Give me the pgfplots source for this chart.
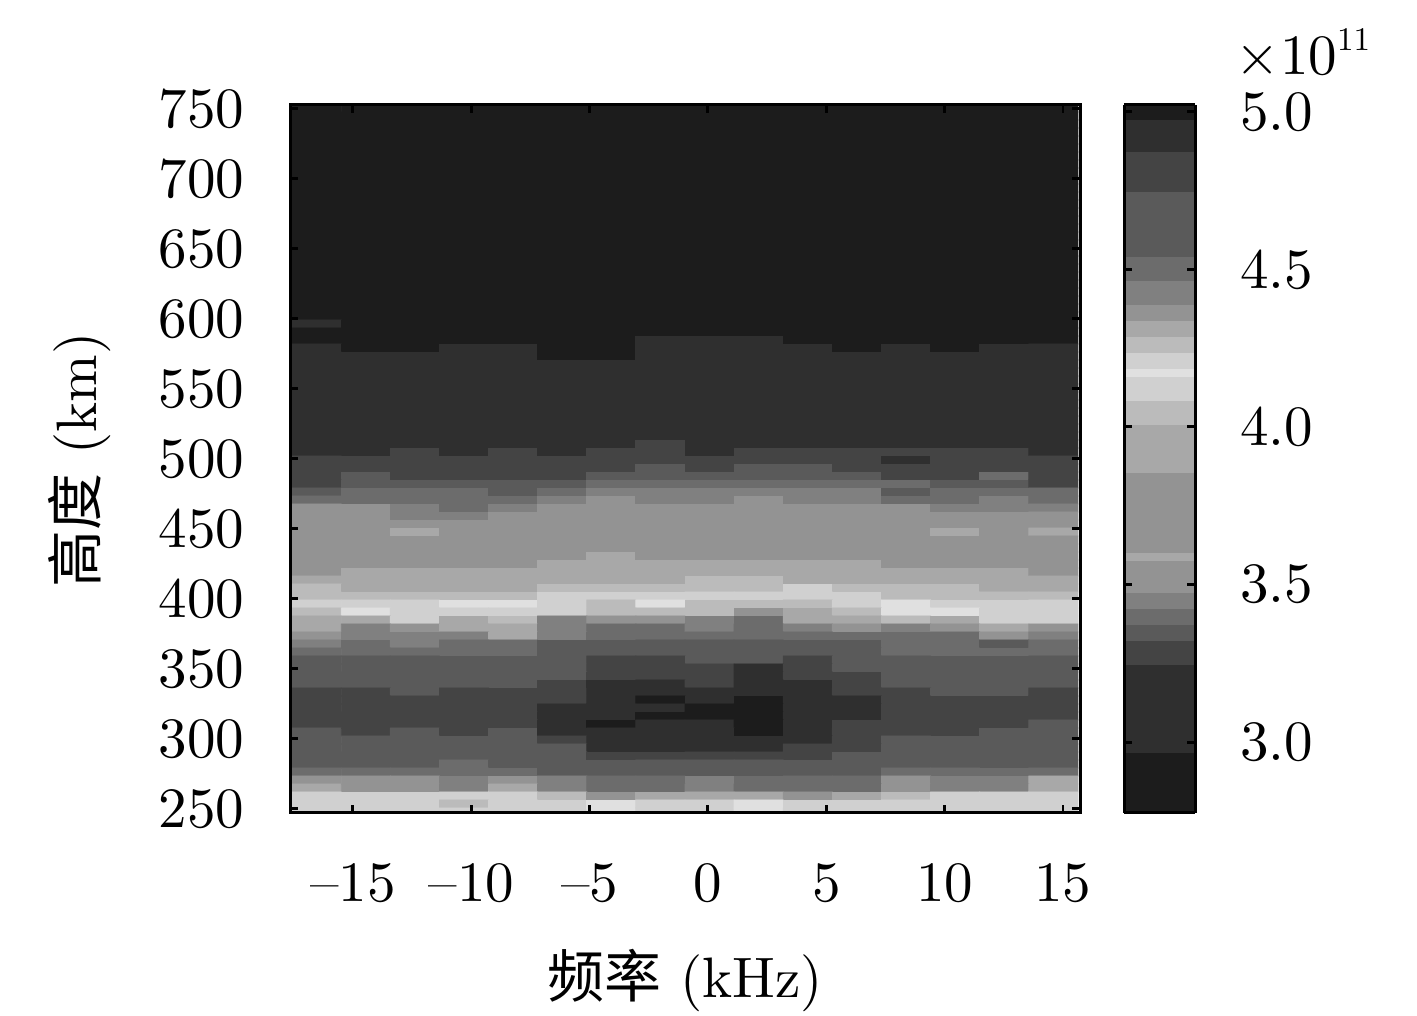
\documentclass[border=0pt]{standalone}
\usepackage{fontspec}
\setmainfont{lmroman10-regular.otf}
\usepackage{pgfplots}
\pgfplotsset{compat=1.18}
\newfontfamily\cjk{Noto Sans CJK SC}
\newcommand{\bigf}{\Huge}
\begin{document}
\begin{tikzpicture}
\path[use as bounding box] (-126.6pt,-88.61pt) rectangle (491.94pt,354.87pt);
\begin{axis}[
  at={(0pt,0pt)}, anchor=south west,
  scale only axis, width=344.85pt, height=309.04pt,
  xmin=-17.66, xmax=15.72, ymin=247.14, ymax=752.86,
  xtick={-15,-10,-5,0,5,10,15},
  xticklabels={–15,–10,–5,0,5,10,15},
  ytick={250,300,350,400,450,500,550,600,650,700,750},
  yticklabels={250,300,350,400,450,500,550,600,650,700,750},
  tick align=inside, tickpos=both, xticklabel pos=bottom, yticklabel pos=left,
  major tick length=3.5pt, axis line style={line width=1.3pt},
  tick style={line width=1.3pt,black},
  axis on top, clip mode=individual,
  tick label style={font=\bigf},
  xticklabel style={yshift=-18.4pt},
  yticklabel style={xshift=-16.4pt},
  label style={font=\bigf},
  xlabel={{\cjk 频率} (kHz)},
  ylabel={{\cjk 高度} (km)},
  xlabel style={at={(axis description cs:0.5,-0.2365)},anchor=center},
  ylabel style={at={(axis description cs:-0.266,0.4986)},anchor=center,rotate=0},
  colormap={ionogray}{
    gray=(.11) gray=(.11) gray=(.11) gray=(.11) gray=(.11) gray=(.11) gray=(.11) gray=(.11)
    gray=(.185) gray=(.185) gray=(.185) gray=(.185) gray=(.185) gray=(.185) gray=(.185) gray=(.185) gray=(.185) gray=(.185) gray=(.185)
    gray=(.267) gray=(.267) gray=(.267)
    gray=(.353) gray=(.353)
    gray=(.424) gray=(.424)
    gray=(.5) gray=(.5)
    gray=(.576) gray=(.576) gray=(.576) gray=(.576)
    gray=(.659)
    gray=(.576) gray=(.576) gray=(.576) gray=(.576) gray=(.576) gray=(.576) gray=(.576) gray=(.576) gray=(.576) gray=(.576)
    gray=(.659) gray=(.659) gray=(.659) gray=(.659) gray=(.659) gray=(.659)
    gray=(.733) gray=(.733) gray=(.733)
    gray=(.816) gray=(.816) gray=(.816) gray=(.88) gray=(.816) gray=(.816)
    gray=(.733) gray=(.733)
    gray=(.659) gray=(.659)
    gray=(.576) gray=(.576)
    gray=(.5) gray=(.5) gray=(.5)
    gray=(.424) gray=(.424) gray=(.424)
    gray=(.353) gray=(.353) gray=(.353) gray=(.353) gray=(.353) gray=(.353) gray=(.353) gray=(.353)
    gray=(.267) gray=(.267) gray=(.267) gray=(.267) gray=(.267)
    gray=(.185) gray=(.185) gray=(.185) gray=(.185)
    gray=(.11) gray=(.11)
  },
  colormap access=piecewise constant,
  point meta min=2.7651, point meta max=5.0254,
  colorbar sampled,
  colorbar style={
    samples=90,
    at={(1.0557,1)}, anchor=north west,
    width=31pt, height=309.04pt, scale only axis,
    ymin=2.775, ymax=5.022,
    ytick={3,3.5,4,4.5,5},
    yticklabels={3.0,3.5,4.0,4.5,5.0},
    yticklabel pos=right, tickpos=both, tick align=inside,
    major tick length=3.5pt,
    tick style={line width=1.3pt,black},
    axis line style={line width=1.3pt},
    tick label style={font=\bigf},
    yticklabel style={xshift=16.2pt},
  },
]
\addplot[matrix plot*, mesh/cols=16, point meta=\thisrowno{0}]
  table[row sep=\\, header=false,
        x expr={-16.5325+2.075*mod(\coordindex,16)},
        y expr={750.71-5.7143*floor(\coordindex/16+0.01)}] {
2.85\\2.85\\2.85\\2.85\\2.85\\2.85\\2.85\\2.85\\2.85\\2.85\\2.85\\2.85\\2.85\\2.85\\2.85\\2.85\\
2.85\\2.85\\2.85\\2.85\\2.85\\2.85\\2.85\\2.85\\2.85\\2.85\\2.85\\2.85\\2.85\\2.85\\2.85\\2.85\\
2.85\\2.85\\2.85\\2.85\\2.85\\2.85\\2.85\\2.85\\2.85\\2.85\\2.85\\2.85\\2.85\\2.85\\2.85\\2.85\\
2.85\\2.85\\2.85\\2.85\\2.85\\2.85\\2.85\\2.85\\2.85\\2.85\\2.85\\2.85\\2.85\\2.85\\2.85\\2.85\\
2.85\\2.85\\2.85\\2.85\\2.85\\2.85\\2.85\\2.85\\2.85\\2.85\\2.85\\2.85\\2.85\\2.85\\2.85\\2.85\\
2.85\\2.85\\2.85\\2.85\\2.85\\2.85\\2.85\\2.85\\2.85\\2.85\\2.85\\2.85\\2.85\\2.85\\2.85\\2.85\\
2.85\\2.85\\2.85\\2.85\\2.85\\2.85\\2.85\\2.85\\2.85\\2.85\\2.85\\2.85\\2.85\\2.85\\2.85\\2.85\\
2.85\\2.85\\2.85\\2.85\\2.85\\2.85\\2.85\\2.85\\2.85\\2.85\\2.85\\2.85\\2.85\\2.85\\2.85\\2.85\\
2.85\\2.85\\2.85\\2.85\\2.85\\2.85\\2.85\\2.85\\2.85\\2.85\\2.85\\2.85\\2.85\\2.85\\2.85\\2.85\\
2.85\\2.85\\2.85\\2.85\\2.85\\2.85\\2.85\\2.85\\2.85\\2.85\\2.85\\2.85\\2.85\\2.85\\2.85\\2.85\\
2.85\\2.85\\2.85\\2.85\\2.85\\2.85\\2.85\\2.85\\2.85\\2.85\\2.85\\2.85\\2.85\\2.85\\2.85\\2.85\\
2.85\\2.85\\2.85\\2.85\\2.85\\2.85\\2.85\\2.85\\2.85\\2.85\\2.85\\2.85\\2.85\\2.85\\2.85\\2.85\\
2.85\\2.85\\2.85\\2.85\\2.85\\2.85\\2.85\\2.85\\2.85\\2.85\\2.85\\2.85\\2.85\\2.85\\2.85\\2.85\\
2.85\\2.85\\2.85\\2.85\\2.85\\2.85\\2.85\\2.85\\2.85\\2.85\\2.85\\2.85\\2.85\\2.85\\2.85\\2.85\\
2.85\\2.85\\2.85\\2.85\\2.85\\2.85\\2.85\\2.85\\2.85\\2.85\\2.85\\2.85\\2.85\\2.85\\2.85\\2.85\\
2.85\\2.85\\2.85\\2.85\\2.85\\2.85\\2.85\\2.85\\2.85\\2.85\\2.85\\2.85\\2.85\\2.85\\2.85\\2.85\\
2.85\\2.85\\2.85\\2.85\\2.85\\2.85\\2.85\\2.85\\2.85\\2.85\\2.85\\2.85\\2.85\\2.85\\2.85\\2.85\\
2.85\\2.85\\2.85\\2.85\\2.85\\2.85\\2.85\\2.85\\2.85\\2.85\\2.85\\2.85\\2.85\\2.85\\2.85\\2.85\\
2.85\\2.85\\2.85\\2.85\\2.85\\2.85\\2.85\\2.85\\2.85\\2.85\\2.85\\2.85\\2.85\\2.85\\2.85\\2.85\\
2.85\\2.85\\2.85\\2.85\\2.85\\2.85\\2.85\\2.85\\2.85\\2.85\\2.85\\2.85\\2.85\\2.85\\2.85\\2.85\\
2.85\\2.85\\2.85\\2.85\\2.85\\2.85\\2.85\\2.85\\2.85\\2.85\\2.85\\2.85\\2.85\\2.85\\2.85\\2.85\\
2.85\\2.85\\2.85\\2.85\\2.85\\2.85\\2.85\\2.85\\2.85\\2.85\\2.85\\2.85\\2.85\\2.85\\2.85\\2.85\\
2.85\\2.85\\2.85\\2.85\\2.85\\2.85\\2.85\\2.85\\2.85\\2.85\\2.85\\2.85\\2.85\\2.85\\2.85\\2.85\\
2.85\\2.85\\2.85\\2.85\\2.85\\2.85\\2.85\\2.85\\2.85\\2.85\\2.85\\2.85\\2.85\\2.85\\2.85\\2.85\\
2.85\\2.85\\2.85\\2.85\\2.85\\2.85\\2.85\\2.85\\2.85\\2.85\\2.85\\2.85\\2.85\\2.85\\2.85\\2.85\\
2.85\\2.85\\2.85\\2.85\\2.85\\2.85\\2.85\\2.85\\2.85\\2.85\\2.85\\2.85\\2.85\\2.85\\2.85\\2.85\\
2.85\\2.85\\2.85\\2.85\\2.85\\2.85\\2.85\\2.85\\2.85\\2.85\\2.85\\2.85\\2.85\\2.85\\2.85\\2.85\\
3.10\\2.85\\2.85\\2.85\\2.85\\2.85\\2.85\\2.85\\2.85\\2.85\\2.85\\2.85\\2.85\\2.85\\2.85\\2.85\\
2.85\\2.85\\2.85\\2.85\\2.85\\2.85\\2.85\\2.85\\2.85\\2.85\\2.85\\2.85\\2.85\\2.85\\2.85\\2.85\\
2.85\\2.85\\2.85\\2.85\\2.85\\2.85\\2.85\\3.10\\3.10\\3.10\\2.85\\2.85\\2.85\\2.85\\2.85\\2.85\\
3.10\\2.85\\2.85\\3.10\\3.10\\2.85\\2.85\\3.10\\3.10\\3.10\\3.10\\2.85\\3.10\\2.85\\3.10\\3.10\\
3.10\\3.10\\3.10\\3.10\\3.10\\2.85\\2.85\\3.10\\3.10\\3.10\\3.10\\3.10\\3.10\\3.10\\3.10\\3.10\\
3.10\\3.10\\3.10\\3.10\\3.10\\3.10\\3.10\\3.10\\3.10\\3.10\\3.10\\3.10\\3.10\\3.10\\3.10\\3.10\\
3.10\\3.10\\3.10\\3.10\\3.10\\3.10\\3.10\\3.10\\3.10\\3.10\\3.10\\3.10\\3.10\\3.10\\3.10\\3.10\\
3.10\\3.10\\3.10\\3.10\\3.10\\3.10\\3.10\\3.10\\3.10\\3.10\\3.10\\3.10\\3.10\\3.10\\3.10\\3.10\\
3.10\\3.10\\3.10\\3.10\\3.10\\3.10\\3.10\\3.10\\3.10\\3.10\\3.10\\3.10\\3.10\\3.10\\3.10\\3.10\\
3.10\\3.10\\3.10\\3.10\\3.10\\3.10\\3.10\\3.10\\3.10\\3.10\\3.10\\3.10\\3.10\\3.10\\3.10\\3.10\\
3.10\\3.10\\3.10\\3.10\\3.10\\3.10\\3.10\\3.10\\3.10\\3.10\\3.10\\3.10\\3.10\\3.10\\3.10\\3.10\\
3.10\\3.10\\3.10\\3.10\\3.10\\3.10\\3.10\\3.10\\3.10\\3.10\\3.10\\3.10\\3.10\\3.10\\3.10\\3.10\\
3.10\\3.10\\3.10\\3.10\\3.10\\3.10\\3.10\\3.10\\3.10\\3.10\\3.10\\3.10\\3.10\\3.10\\3.10\\3.10\\
3.10\\3.10\\3.10\\3.10\\3.10\\3.10\\3.10\\3.10\\3.10\\3.10\\3.10\\3.10\\3.10\\3.10\\3.10\\3.10\\
3.10\\3.10\\3.10\\3.10\\3.10\\3.10\\3.10\\3.10\\3.10\\3.10\\3.10\\3.10\\3.10\\3.10\\3.10\\3.10\\
3.10\\3.10\\3.10\\3.10\\3.10\\3.10\\3.10\\3.28\\3.10\\3.10\\3.10\\3.10\\3.10\\3.10\\3.10\\3.10\\
3.10\\3.10\\3.28\\3.10\\3.28\\3.10\\3.28\\3.28\\3.10\\3.28\\3.28\\3.28\\3.28\\3.28\\3.28\\3.10\\
3.28\\3.28\\3.28\\3.28\\3.28\\3.28\\3.28\\3.28\\3.28\\3.28\\3.28\\3.28\\3.10\\3.28\\3.28\\3.28\\
3.28\\3.28\\3.28\\3.28\\3.28\\3.28\\3.28\\3.35\\3.28\\3.35\\3.35\\3.28\\3.28\\3.28\\3.28\\3.28\\
3.28\\3.35\\3.28\\3.28\\3.28\\3.28\\3.35\\3.35\\3.35\\3.35\\3.35\\3.35\\3.28\\3.28\\3.40\\3.28\\
3.28\\3.35\\3.35\\3.35\\3.35\\3.35\\3.40\\3.40\\3.40\\3.40\\3.40\\3.40\\3.40\\3.35\\3.35\\3.28\\
3.35\\3.40\\3.40\\3.40\\3.35\\3.40\\3.45\\3.45\\3.45\\3.45\\3.45\\3.45\\3.35\\3.40\\3.40\\3.40\\
3.40\\3.40\\3.40\\3.40\\3.40\\3.45\\3.75\\3.45\\3.45\\3.75\\3.45\\3.45\\3.40\\3.40\\3.45\\3.40\\
3.75\\3.75\\3.45\\3.40\\3.45\\3.75\\3.75\\3.75\\3.75\\3.75\\3.75\\3.75\\3.75\\3.45\\3.45\\3.45\\
3.75\\3.75\\3.45\\3.45\\3.75\\3.75\\3.75\\3.75\\3.75\\3.75\\3.75\\3.75\\3.75\\3.75\\3.75\\3.75\\
3.75\\3.75\\3.75\\3.75\\3.75\\3.75\\3.75\\3.75\\3.75\\3.75\\3.75\\3.75\\3.75\\3.75\\3.75\\3.75\\
3.75\\3.75\\3.93\\3.75\\3.75\\3.75\\3.75\\3.75\\3.75\\3.75\\3.75\\3.75\\3.75\\3.93\\3.75\\3.93\\
3.75\\3.75\\3.75\\3.75\\3.75\\3.75\\3.75\\3.75\\3.75\\3.75\\3.75\\3.75\\3.75\\3.75\\3.75\\3.75\\
3.75\\3.75\\3.75\\3.75\\3.75\\3.75\\3.75\\3.75\\3.75\\3.75\\3.75\\3.75\\3.75\\3.75\\3.75\\3.75\\
3.75\\3.75\\3.75\\3.75\\3.75\\3.75\\3.93\\3.75\\3.75\\3.75\\3.75\\3.75\\3.75\\3.75\\3.75\\3.75\\
3.75\\3.75\\3.75\\3.75\\3.75\\3.93\\3.93\\3.93\\3.93\\3.93\\3.93\\3.93\\3.75\\3.75\\3.75\\3.75\\
3.75\\3.93\\3.93\\3.93\\3.93\\3.93\\3.93\\3.93\\3.93\\3.93\\3.93\\3.93\\3.93\\3.93\\3.93\\3.75\\
3.93\\3.93\\3.93\\3.93\\3.93\\3.93\\3.93\\3.93\\4.05\\4.05\\3.93\\3.93\\3.93\\3.93\\3.93\\3.93\\
4.05\\3.93\\3.93\\3.93\\3.93\\4.05\\4.05\\4.05\\4.05\\4.05\\4.12\\4.05\\4.05\\4.05\\3.93\\3.93\\
4.05\\4.05\\4.05\\4.05\\4.05\\4.12\\4.12\\4.12\\4.12\\4.12\\4.12\\4.12\\4.05\\4.05\\4.05\\4.05\\
4.20\\4.20\\4.20\\4.175\\4.175\\4.20\\4.26\\4.175\\4.26\\4.26\\4.26\\4.20\\4.175\\4.20\\4.20\\4.20\\
4.26\\4.175\\4.20\\4.20\\4.20\\4.20\\4.26\\4.26\\4.26\\4.37\\4.31\\4.26\\4.175\\4.175\\4.20\\4.20\\
4.31\\4.31\\4.20\\4.31\\4.26\\4.43\\4.37\\4.37\\4.43\\4.50\\4.31\\4.31\\4.26\\4.31\\4.20\\4.20\\
4.31\\4.43\\4.37\\4.31\\4.31\\4.43\\4.50\\4.50\\4.43\\4.50\\4.43\\4.37\\4.43\\4.37\\4.31\\4.37\\
4.37\\4.43\\4.43\\4.43\\4.31\\4.43\\4.50\\4.50\\4.50\\4.50\\4.50\\4.50\\4.50\\4.50\\4.37\\4.43\\
4.43\\4.50\\4.43\\4.50\\4.50\\4.65\\4.65\\4.65\\4.65\\4.65\\4.65\\4.65\\4.50\\4.50\\4.65\\4.50\\
4.50\\4.50\\4.50\\4.50\\4.50\\4.65\\4.65\\4.65\\4.65\\4.65\\4.65\\4.65\\4.50\\4.50\\4.50\\4.50\\
4.65\\4.65\\4.65\\4.65\\4.65\\4.65\\4.80\\4.80\\4.65\\4.65\\4.80\\4.65\\4.65\\4.65\\4.65\\4.65\\
4.65\\4.65\\4.65\\4.65\\4.65\\4.65\\4.80\\4.80\\4.80\\4.92\\4.80\\4.65\\4.65\\4.65\\4.65\\4.65\\
4.65\\4.65\\4.65\\4.65\\4.65\\4.65\\4.80\\4.80\\4.80\\4.92\\4.80\\4.80\\4.65\\4.65\\4.65\\4.65\\
4.65\\4.65\\4.65\\4.65\\4.65\\4.80\\4.92\\4.92\\4.80\\4.92\\4.92\\4.80\\4.65\\4.65\\4.65\\4.65\\
4.80\\4.80\\4.65\\4.80\\4.80\\4.80\\4.92\\4.92\\4.92\\4.92\\4.92\\4.80\\4.80\\4.65\\4.65\\4.80\\
4.80\\4.80\\4.80\\4.80\\4.80\\4.80\\4.92\\5.00\\4.92\\5.00\\4.92\\4.92\\4.80\\4.80\\4.80\\4.80\\
4.80\\4.80\\4.80\\4.80\\4.80\\4.92\\4.92\\4.92\\5.00\\5.00\\4.92\\4.92\\4.80\\4.80\\4.80\\4.80\\
4.80\\4.80\\4.80\\4.80\\4.80\\4.92\\4.92\\5.00\\5.00\\5.00\\4.92\\4.92\\4.80\\4.80\\4.80\\4.80\\
4.80\\4.80\\4.80\\4.80\\4.80\\4.92\\5.00\\4.92\\4.92\\5.00\\4.92\\4.80\\4.80\\4.80\\4.80\\4.65\\
4.65\\4.80\\4.65\\4.80\\4.65\\4.92\\4.92\\4.92\\4.92\\5.00\\4.92\\4.80\\4.80\\4.80\\4.65\\4.65\\
4.65\\4.65\\4.65\\4.65\\4.65\\4.80\\4.92\\4.92\\4.92\\4.92\\4.92\\4.80\\4.65\\4.65\\4.65\\4.65\\
4.65\\4.65\\4.65\\4.65\\4.65\\4.65\\4.92\\4.92\\4.92\\4.92\\4.80\\4.80\\4.65\\4.65\\4.65\\4.65\\
4.65\\4.65\\4.65\\4.65\\4.65\\4.65\\4.80\\4.80\\4.80\\4.80\\4.80\\4.65\\4.65\\4.65\\4.65\\4.65\\
4.65\\4.65\\4.65\\4.50\\4.65\\4.65\\4.65\\4.65\\4.65\\4.65\\4.65\\4.65\\4.65\\4.65\\4.65\\4.65\\
4.50\\4.50\\4.50\\4.50\\4.50\\4.65\\4.65\\4.65\\4.65\\4.65\\4.65\\4.65\\4.50\\4.50\\4.50\\4.50\\
4.37\\4.37\\4.37\\4.43\\4.37\\4.43\\4.50\\4.50\\4.43\\4.50\\4.50\\4.50\\4.37\\4.43\\4.43\\4.31\\
4.31\\4.37\\4.37\\4.43\\4.31\\4.43\\4.50\\4.50\\4.43\\4.50\\4.50\\4.50\\4.37\\4.43\\4.43\\4.31\\
4.20\\4.20\\4.20\\4.20\\4.20\\4.26\\4.37\\4.31\\4.31\\4.31\\4.37\\4.31\\4.26\\4.20\\4.20\\4.20\\
4.20\\4.20\\4.20\\4.26\\4.20\\4.20\\4.175\\4.20\\4.20\\4.175\\4.20\\4.20\\4.20\\4.20\\4.20\\4.20\\
4.20\\4.20\\4.20\\4.20\\4.20\\4.20\\4.175\\4.20\\4.20\\4.175\\4.20\\4.20\\4.20\\4.20\\4.20\\4.20\\
};
\node[font=\bigf,inner sep=0pt] at (axis description cs:1.2823,1.0749) {×10\raisebox{.42em}{\fontsize{14.4}{14.4}\selectfont 11}};
\end{axis}
\end{tikzpicture}
\end{document}
